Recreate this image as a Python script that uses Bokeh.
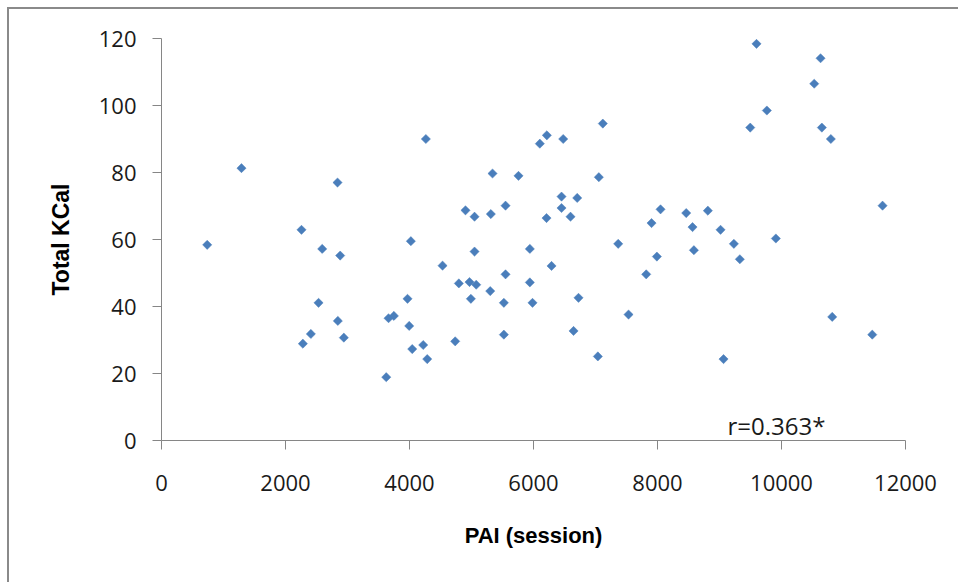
import numpy as np
from bokeh.plotting import figure
from bokeh.models import FixedTicker, ColumnDataSource, Label
from bokeh.embed import file_html
from bokeh.resources import INLINE

# PAI (session) values
pai = [737, 1290, 2258, 2280, 2409, 2533, 2592, 2839, 2844, 2882, 2941,
       3625, 3662, 3748, 3968, 3995, 4022, 4044, 4221, 4264, 4286,
       4533, 4737, 4796, 4903, 4968, 4990, 5049, 5049, 5076, 5302,
       5312, 5339, 5522, 5522, 5549, 5549, 5758, 5941, 5941, 5984,
       6102, 6210, 6215, 6291, 6452, 6452, 6479, 6597, 6646, 6705,
       6726, 7038, 7054, 7118, 7366, 7533, 7818, 7904, 7990, 8049,
       8463, 8565, 8587, 8812, 9017, 9065, 9232, 9328, 9496, 9597,
       9764, 9909, 10528, 10630, 10651, 10796, 10818, 11464, 11630]
# Total KCal values
kcal = [58.4, 81.3, 62.9, 28.9, 31.8, 41.1, 57.2, 77.0, 35.7, 55.2, 30.7,
        18.9, 36.5, 37.2, 42.3, 34.2, 59.5, 27.3, 28.5, 90.0, 24.3,
        52.2, 29.6, 46.9, 68.7, 47.3, 42.3, 66.8, 56.4, 46.5, 44.6,
        67.6, 79.7, 41.1, 31.6, 49.6, 70.1, 79.0, 57.2, 47.2, 41.1,
        88.6, 66.4, 91.1, 52.1, 72.8, 69.4, 90.0, 66.8, 32.7, 72.4,
        42.6, 25.1, 78.6, 94.6, 58.7, 37.6, 49.6, 64.9, 54.9, 69.0,
        67.9, 63.7, 56.8, 68.6, 62.9, 24.3, 58.7, 54.1, 93.4, 118.4,
        98.5, 60.3, 106.5, 114.1, 93.4, 90.0, 36.9, 31.6, 70.1]

x_ticks = [0, 2000, 4000, 6000, 8000, 10000, 12000]
y_ticks = [0, 20, 40, 60, 80, 100, 120]
x_title = "PAI (session)"
y_title = "Total KCal"
r_text = "r=0.363*"

p = figure(width=958, height=582, output_backend="svg", toolbar_location=None,
           x_range=(0, 12000), y_range=(0, 120),
           min_border_left=161, min_border_right=53, min_border_top=38,
           min_border_bottom=142)
p.background_fill_color = None
p.border_fill_color = None
p.outline_line_color = None
p.grid.visible = False
p.styles = {
    "background": "linear-gradient(#8a8a8a,#8a8a8a) 7px 7px / 2px 100% no-repeat, "
                  "linear-gradient(#8a8a8a,#8a8a8a) 7px 7px / 100% 2px no-repeat, white"
}

src = ColumnDataSource(dict(x=pai, y=kcal))
p.scatter("x", "y", source=src, marker="square", angle=np.pi / 4, size=6.5,
          fill_color="#4a7ebb", line_color="#4a7ebb", line_width=0.5)

for ax in (p.xaxis[0], p.yaxis[0]):
    ax.axis_line_color = "#868686"
    ax.major_tick_line_color = "#868686"
    ax.major_tick_out = 9
    ax.major_tick_in = 0
    ax.minor_tick_line_color = None
    ax.major_label_text_font = "Open Sans"
    ax.major_label_text_font_size = "22px"
    ax.major_label_text_color = "#1a1a1a"
    ax.axis_label_text_font = "Liberation Sans"
    ax.axis_label_text_font_style = "bold"
    ax.axis_label_text_color = "#000000"

p.xaxis.axis_label_text_font_size = "22px"
p.yaxis.axis_label_text_font_size = "23px"
p.xaxis.ticker = FixedTicker(ticks=x_ticks)
p.yaxis.ticker = FixedTicker(ticks=y_ticks)
p.xaxis.axis_label = x_title
p.yaxis.axis_label = y_title
p.xaxis.major_label_standoff = 25
p.yaxis.major_label_standoff = 16
p.xaxis.axis_label_standoff = 29
p.yaxis.axis_label_standoff = 22

p.add_layout(Label(x=9130, y=4.4, text=r_text, text_font="Open Sans",
                   text_font_size="24px", text_color="#1a1a1a",
                   text_baseline="middle"))

open("out.html", "w").write(file_html(p, INLINE))
